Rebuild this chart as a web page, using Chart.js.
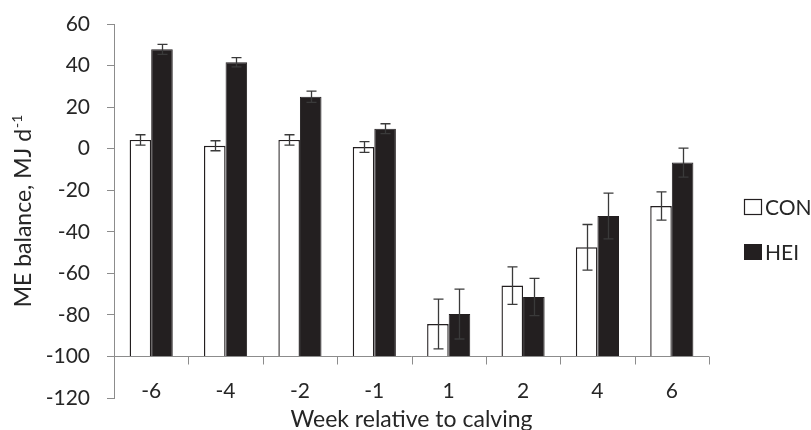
<!DOCTYPE html>
<html>
<head>
<meta charset="utf-8">
<script src="https://cdn.jsdelivr.net/npm/chart.js@4.4.1/dist/chart.umd.min.js"></script>
<style>
html,body{margin:0;padding:0;background:#fff;}
#wrap{width:811px;height:430px;position:relative;}
</style>
</head>
<body>
<div id="wrap"><canvas id="c" width="811" height="430"></canvas></div>
<script>
const weeks = ['-6', '-4', '-2', '-1', '1', '2', '4', '6'];
const conValues = [4.2, 1.4, 4.2, 0.8, -84.4, -65.9, -47.5, -27.6];
const heiValues = [47.8, 41.6, 25.0, 9.6, -79.6, -71.4, -32.4, -6.7];
const conErrors = [2.5, 2.4, 2.5, 2.6, 12, 9, 11, 6.8];
const heiErrors = [2.4, 2.2, 2.7, 2.4, 12, 9, 11, 7];
const seriesNames = ['CON', 'HEI'];
const yTitle = 'ME balance, MJ d';
const yTitleSup = '-1';
const xTitle = 'Week relative to calving';
const baseValue = -100;

const FONT = 'Lato';
const TEXT = '#262626';
const AXIS = '#8c8c8c';
const DARK = '#231f20';

const errorBarPlugin = {
  id: 'errorBars',
  afterDatasetsDraw(chart) {
    const ctx = chart.ctx;
    const y = chart.scales.y;
    const errs = [conErrors, heiErrors];
    ctx.save();
    ctx.strokeStyle = '#3a3a3a';
    ctx.lineWidth = 1.3;
    chart.data.datasets.forEach((ds, di) => {
      const meta = chart.getDatasetMeta(di);
      meta.data.forEach((bar, i) => {
        const v = ds.data[i];
        const e = errs[di][i];
        const x = Math.round(bar.x) + 0.5;
        const yt = y.getPixelForValue(v + e);
        const yb = y.getPixelForValue(v - e);
        ctx.beginPath();
        ctx.moveTo(x, yt); ctx.lineTo(x, yb);
        ctx.moveTo(x - 5, yt); ctx.lineTo(x + 5, yt);
        ctx.moveTo(x - 5, yb); ctx.lineTo(x + 5, yb);
        ctx.stroke();
      });
    });
    ctx.restore();
  }
};

const axisPlugin = {
  id: 'baseAxis',
  afterDatasetsDraw(chart) {
    const ctx = chart.ctx;
    const xs = chart.scales.x, ys = chart.scales.y;
    const area = chart.chartArea;
    const yb = Math.round(ys.getPixelForValue(baseValue)) + 0.5;
    const step = xs.getPixelForValue(1) - xs.getPixelForValue(0);
    ctx.save();
    ctx.strokeStyle = AXIS;
    ctx.lineWidth = 1;
    ctx.beginPath();
    ctx.moveTo(area.left, yb); ctx.lineTo(area.right, yb);
    for (let i = 0; i <= weeks.length; i++) {
      const px = Math.round(xs.getPixelForValue(0) - step / 2 + i * step) + 0.5;
      ctx.moveTo(px, yb); ctx.lineTo(px, yb + 8);
    }
    ctx.stroke();
    ctx.fillStyle = TEXT;
    ctx.font = '21px ' + FONT;
    ctx.textAlign = 'center';
    ctx.textBaseline = 'alphabetic';
    weeks.forEach((w, i) => {
      ctx.fillText(w, xs.getPixelForValue(i), area.bottom);
    });
    ctx.font = '23px ' + FONT;
    ctx.fillText(xTitle, (area.left + area.right) / 2, 427);
    ctx.restore();
  }
};

const textPlugin = {
  id: 'texts',
  afterDraw(chart) {
    const ctx = chart.ctx;
    const area = chart.chartArea;
    ctx.save();
    ctx.fillStyle = TEXT;
    ctx.font = '23px ' + FONT;
    const mainW = ctx.measureText(yTitle).width;
    ctx.font = '14px ' + FONT;
    const supW = ctx.measureText(yTitleSup).width;
    const total = mainW + supW + 1;
    const cy = (area.top + area.bottom) / 2;
    ctx.translate(31, cy);
    ctx.rotate(-Math.PI / 2);
    ctx.textBaseline = 'alphabetic';
    ctx.textAlign = 'left';
    ctx.font = '23px ' + FONT;
    ctx.fillText(yTitle, -total / 2, 0);
    ctx.font = '14px ' + FONT;
    ctx.fillText(yTitleSup, -total / 2 + mainW + 1, -9);
    ctx.restore();

    ctx.save();
    const lx = area.right + 35;
    const rows = [207, 252];
    ctx.font = '21px ' + FONT;
    ctx.textBaseline = 'middle';
    ctx.textAlign = 'left';
    seriesNames.forEach((name, i) => {
      const ry = rows[i];
      if (i === 0) {
        ctx.fillStyle = '#ffffff';
        ctx.fillRect(lx + 0.5, ry - 7.5, 17, 15);
        ctx.strokeStyle = DARK;
        ctx.lineWidth = 1.2;
        ctx.strokeRect(lx + 0.5, ry - 7.5, 17, 15);
      } else {
        ctx.fillStyle = DARK;
        ctx.fillRect(lx, ry - 8, 18, 16);
      }
      ctx.fillStyle = TEXT;
      ctx.fillText(name, lx + 21, ry + 1);
    });
    ctx.restore();
  }
};

new Chart(document.getElementById('c'), {
  type: 'bar',
  data: {
    labels: weeks,
    datasets: [
      {
        label: seriesNames[0],
        data: conValues,
        base: baseValue,
        backgroundColor: '#ffffff',
        borderColor: DARK,
        borderWidth: 1.4,
        borderSkipped: 'start'
      },
      {
        label: seriesNames[1],
        data: heiValues,
        base: baseValue,
        backgroundColor: DARK,
        borderColor: DARK,
        borderWidth: 1,
        borderSkipped: 'start'
      }
    ]
  },
  options: {
    responsive: false,
    animation: false,
    devicePixelRatio: 1,
    layout: { padding: { top: 24, right: 102, left: 0, bottom: 0 } },
    datasets: { bar: { categoryPercentage: 0.58, barPercentage: 1.0 } },
    plugins: {
      legend: { display: false },
      tooltip: { enabled: false },
      title: { display: false }
    },
    scales: {
      x: {
        offset: true,
        grid: { display: false },
        border: { display: false },
        ticks: { display: false },
        title: { display: false },
        afterFit(scale) { scale.height = 32; }
      },
      y: {
        min: -120,
        max: 60,
        ticks: {
          stepSize: 20,
          color: TEXT,
          font: { family: FONT, size: 21 },
          padding: 17
        },
        grid: {
          display: true,
          drawOnChartArea: false,
          drawTicks: true,
          tickLength: 7,
          color: AXIS
        },
        border: { display: true, color: AXIS, width: 1 },
        afterFit(scale) {
          scale.width = 114;
          scale.paddingTop = 0;
          scale.paddingBottom = 0;
        }
      }
    }
  },
  plugins: [axisPlugin, errorBarPlugin, textPlugin]
});
</script>
</body>
</html>
